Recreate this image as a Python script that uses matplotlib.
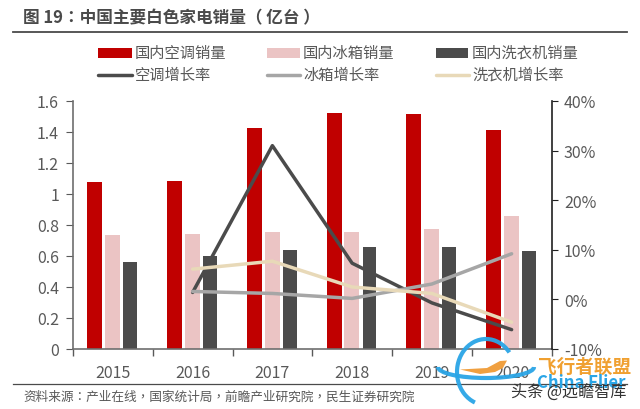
import matplotlib
matplotlib.use("Agg")
import matplotlib.pyplot as plt
from matplotlib.lines import Line2D
from matplotlib.patches import Arc, Polygon
import numpy as np

plt.rcParams['font.family'] = ['Noto Sans CJK SC', 'DejaVu Sans']
PUNCT_FONT = ['Noto Sans CJK TC', 'DejaVu Sans']

years = ['2015', '2016', '2017', '2018', '2019', '2020']
ac_sales = [1.075, 1.085, 1.425, 1.525, 1.515, 1.415]
fridge_sales = [0.735, 0.745, 0.755, 0.755, 0.775, 0.855]
washer_sales = [0.56, 0.60, 0.64, 0.66, 0.66, 0.63]
growth_years = ['2016', '2017', '2018', '2019', '2020']
ac_growth = [1.4, 31.0, 7.3, -0.7, -6.1]
fridge_growth = [1.6, 1.2, 0.2, 3.1, 9.2]
washer_growth = [6.1, 7.7, 2.5, 1.2, -4.6]
left_ticks = ['0', '0.2', '0.4', '0.6', '0.8', '1', '1.2', '1.4', '1.6']
right_ticks = ['-10%', '0%', '10%', '20%', '30%', '40%']

RED, PINK, DARK = '#C00000', '#EBC4C4', '#4B4B4B'
LDARK, LGRAY, LTAN = '#4B4B4B', '#A6A6A6', '#E8D9B8'
TXT = '#595959'

fig = plt.figure(figsize=(6.4, 4.1), dpi=100)
W, H = 640, 410
ax = fig.add_axes([73/W, 1-350/H, (551.5-73)/W, (350-102)/H])
x = np.arange(len(years))
ax.bar(x-0.226, ac_sales, 0.188, color=RED, zorder=2)
ax.bar(x-0.004, fridge_sales, 0.188, color=PINK, zorder=2)
ax.bar(x+0.218, washer_sales, 0.175, color=DARK, zorder=2)
ax.set_xlim(-0.5, 5.5)
ax.set_ylim(0, 1.6)
ax.set_xticks(np.arange(-0.5, 6, 1))
ax.set_xticklabels([])
ax.set_xticks(x, minor=True)
ax.set_xticklabels(years, minor=True)
ax.tick_params(axis='x', which='minor', length=0, pad=11, labelsize=11.5, labelcolor=TXT)
ax.tick_params(axis='x', which='major', length=5, direction='out', width=1, color='#595959')
ax.set_yticks(np.arange(0, 1.61, 0.2))
ax.set_yticklabels(left_ticks)
ax.tick_params(axis='y', length=5, direction='out', labelsize=11.5, labelcolor=TXT, color='#595959', pad=5)
for s in ['top', 'right']:
    ax.spines[s].set_visible(False)
for s in ['left', 'bottom']:
    ax.spines[s].set_color('#6E6E6E')
    ax.spines[s].set_linewidth(1.2)

ax2 = ax.twinx()
ax2.set_ylim(-10, 40)
ax2.set_yticks(np.arange(-10, 41, 10))
ax2.set_yticklabels(right_ticks)
ax2.tick_params(axis='y', length=4, direction='out', labelsize=11.5, labelcolor=TXT, color='#202020', pad=5)
for s in ['top', 'left', 'bottom']:
    ax2.spines[s].set_visible(False)
ax2.spines['right'].set_color('#202020')
ax2.spines['right'].set_linewidth(1.2)
gx = [years.index(y) for y in growth_years]
ax2.plot(gx, ac_growth, color=LDARK, lw=2.5, zorder=5, solid_capstyle='round')
ax2.plot(gx, fridge_growth, color=LGRAY, lw=2.5, zorder=5, solid_capstyle='round')
ax2.plot(gx, washer_growth, color=LTAN, lw=2.5, zorder=6, solid_capstyle='round')

# Title and rules
fig.text(23/W, 1-18/H, '图 19：中国主要白色家电销量（ 亿台 ）', fontsize=12, fontweight='bold',
         color='#4A4A4A', va='center', ha='left', family=PUNCT_FONT)
fig.add_artist(Line2D([13/W, 627/W], [1-32.5/H, 1-32.5/H], color='#4A4A4A', lw=1.3))
fig.add_artist(Line2D([13/W, 627/W], [1-384.5/H, 1-384.5/H], color='#4A4A4A', lw=0.9))
fig.text(23/W, 1-397/H, '资料来源：产业在线，国家统计局，前瞻产业研究院，民生证券研究院', fontsize=9.13,
         color=TXT, va='center', ha='left', family=PUNCT_FONT)

# Overlay in pixel coordinates for legend keys and watermark
ov = fig.add_axes([0, 0, 1, 1], zorder=10)
ov.set_xlim(0, W)
ov.set_ylim(H, 0)
ov.axis('off')
ov.patch.set_alpha(0)

def legend_row(y, items):
    for x0, x1, tx, label, col, is_bar in items:
        if is_bar:
            ov.add_patch(plt.Rectangle((x0, y-5), x1-x0, 10, color=col, lw=0))
        else:
            ov.plot([x0, x1], [y, y], color=col, lw=2.5, solid_capstyle='round')
        ov.text(tx, y-0.5, label, fontsize=11, color=TXT, va='center', ha='left')

legend_row(54, [(98, 132, 135, '国内空调销量', RED, True),
                (267, 300, 303, '国内冰箱销量', PINK, True),
                (436, 468, 472, '国内洗衣机销量', DARK, True)])
legend_row(76, [(98, 132, 135, '空调增长率', LDARK, False),
                (267, 300, 303, '冰箱增长率', LGRAY, False),
                (436, 469, 472, '洗衣机增长率', LTAN, False)])

# Watermark
BLUE = '#2AA5E6'
ov.add_patch(Arc((486, 373), 58, 66, theta1=110, theta2=320, ec=BLUE, lw=3, alpha=0.95))
ov.add_patch(Arc((486, 368), 96, 22, theta1=0, theta2=180, ec=BLUE, lw=3, alpha=0.95))
ov.add_patch(Polygon([(460, 370.5), (487, 369), (500, 362), (507, 361.5), (503, 369), (495, 373), (480, 375)],
                     closed=True, fc='#F0A040', ec='none'))
ov.text(538, 367, '飞行者联盟', fontsize=13.4, fontweight='bold', color='#F0A030', va='center', ha='left')
ov.text(537, 383, 'China Flier', fontsize=12, fontweight='bold', color=BLUE, va='center', ha='left')
ov.text(511, 392, '头条 @远瞻智库', fontsize=11.6, color='#333333', va='center', ha='left')

fig.savefig('out.png', dpi=100)
